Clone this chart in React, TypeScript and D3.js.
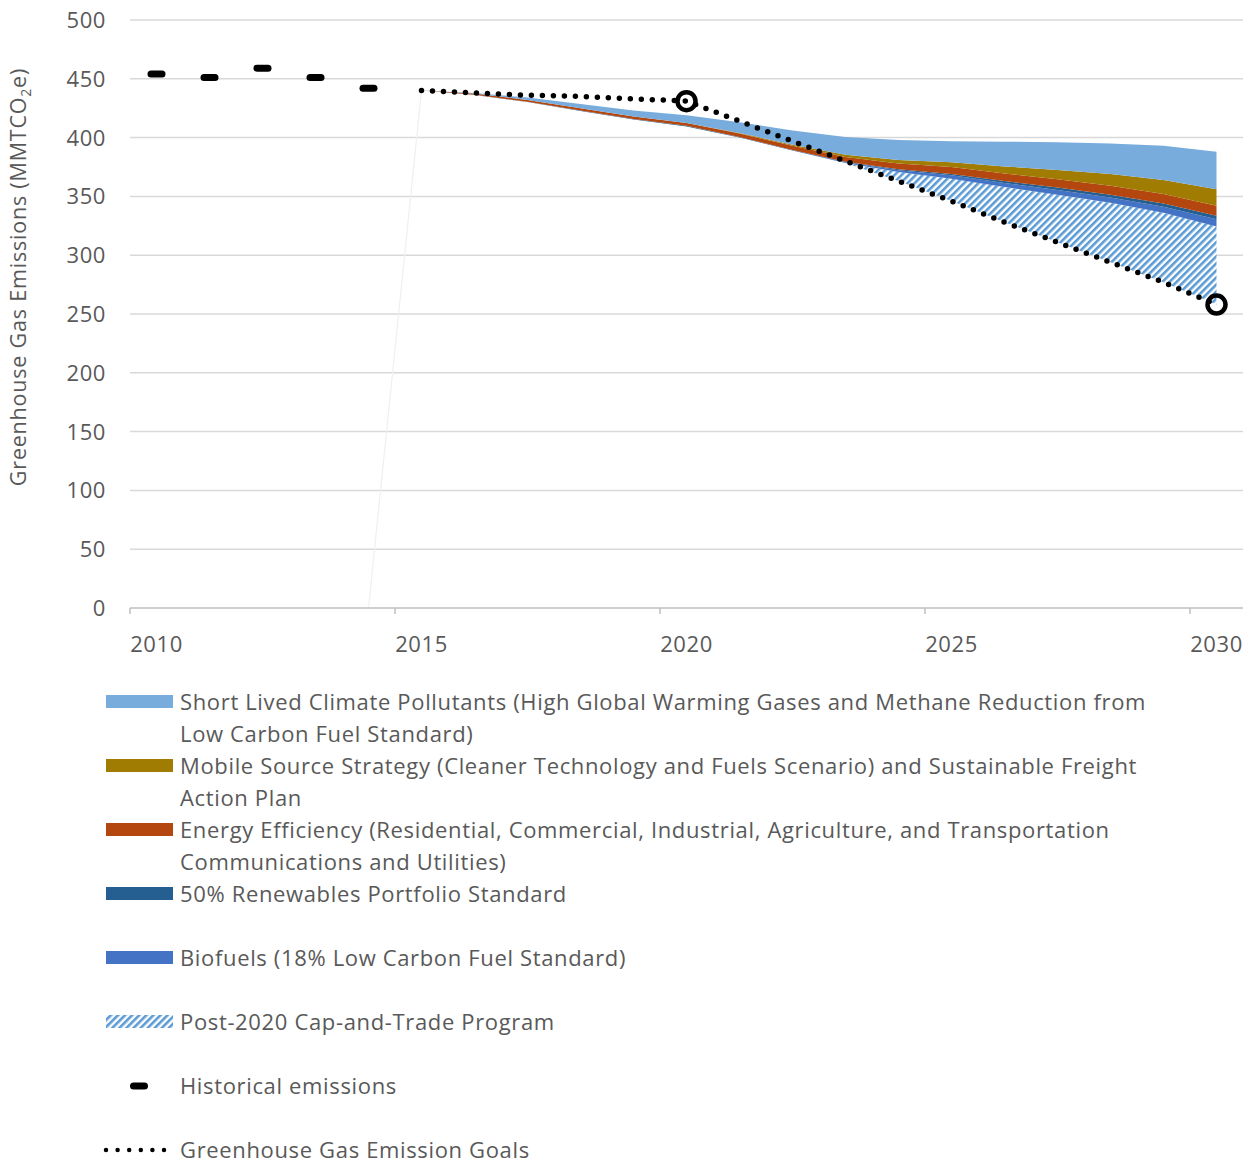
import React, { useEffect, useRef } from 'react';
import * as d3 from 'd3';

const years = d3.range(2010, 2031);
const tickYears = [2010, 2015, 2020, 2025, 2030];
const yTicks = [0, 50, 100, 150, 200, 250, 300, 350, 400, 450, 500];

const historicalYears = [2010, 2011, 2012, 2013, 2014];
const historical = [454, 451, 459, 451, 442];

const scenarioYears = [2014, 2015, 2016, 2017, 2018, 2019, 2020, 2021, 2022, 2023, 2024, 2025, 2026, 2027, 2028, 2029, 2030];
// transparent base of the stack
const base = [0, 440, 436.3, 430.2, 422.6, 415.3, 409.5, 400, 389, 378.5, 363, 346, 328, 311, 294, 277, 258];
const capTrade = [0, 0, 0, 0, 0, 0, 0, 0, 0, 0, 7.8, 19, 30, 40.5, 50.5, 59.2, 66.5];
const biofuels = [0, 0, 0, 0, 0, 0, 0, 0, 0, 0.5, 1.5, 3, 3.5, 4, 4.5, 5, 6];
const renewables = [0, 0, 0.2, 0.3, 0.4, 0.5, 0.5, 0.5, 0.5, 0.5, 0.7, 1, 1.5, 2, 2.5, 2.8, 3];
const efficiency = [0, 0, 1, 1.5, 2, 2.2, 2.5, 3, 3.5, 4, 5, 6, 6.5, 7, 7.5, 8, 8.5];
const mobile = [0, 0, 0, 0, 0, 0, 0, 0.5, 1, 2, 3, 4, 6, 8, 10, 12, 14];
const slcp = [0, 0, 0.5, 2, 3.5, 5, 6.5, 9, 12, 15, 17, 18, 21, 23.5, 26, 29, 32];

const goalYears = [2015, 2016, 2017, 2018, 2019, 2020, 2021, 2022, 2023, 2024, 2025, 2026, 2027, 2028, 2029, 2030];
const goals = [440, 438, 436, 435, 433, 431, 414, 397, 380, 363, 346, 328, 311, 294, 277, 258];
const goalMarkers = [2020, 2030];

const legendItems = [
  { key: 'slcp', lines: ['Short Lived Climate Pollutants (High Global Warming Gases and Methane Reduction from', 'Low Carbon Fuel Standard)'] },
  { key: 'mobile', lines: ['Mobile Source Strategy (Cleaner Technology and Fuels Scenario) and Sustainable Freight', 'Action Plan'] },
  { key: 'efficiency', lines: ['Energy Efficiency (Residential, Commercial, Industrial, Agriculture, and Transportation', 'Communications and Utilities)'] },
  { key: 'renewables', lines: ['50% Renewables Portfolio Standard'] },
  { key: 'biofuels', lines: ['Biofuels (18% Low Carbon Fuel Standard)'] },
  { key: 'capTrade', lines: ['Post-2020 Cap-and-Trade Program'] },
  { key: 'historical', lines: ['Historical emissions'] },
  { key: 'goals', lines: ['Greenhouse Gas Emission Goals'] },
];

const colors: Record<string, string> = {
  slcp: '#78acdc',
  mobile: '#a07c02',
  efficiency: '#b4470f',
  renewables: '#255e91',
  biofuels: '#4472c4',
  capTrade: 'url(#hatch)',
};

const W = 1252;
const H = 1163;
const FONT = "'Open Sans', sans-serif";
const GREY = '#595959';

const App: React.FC = () => {
  const svgRef = useRef<SVGSVGElement>(null);

  useEffect(() => {
    if (!svgRef.current) return;
    const svg = d3.select(svgRef.current);
    svg.selectAll('*').remove();

    const margin = { left: 130, right: 9 };

    const x = d3.scaleBand<number>()
      .domain(years)
      .range([margin.left, W - margin.right])
      .paddingInner(0)
      .paddingOuter(0);
    const cx = (yr: number) => (x(yr) || 0) + x.bandwidth() / 2;

    const y = d3.scaleLinear().domain([0, 500]).range([608, 20]);

    const defs = svg.append('defs');
    const pat = defs.append('pattern')
      .attr('id', 'hatch')
      .attr('patternUnits', 'userSpaceOnUse')
      .attr('width', 5)
      .attr('height', 5)
      .attr('patternTransform', 'rotate(45)');
    pat.append('rect').attr('width', 5).attr('height', 5).attr('fill', '#ffffff');
    pat.append('rect').attr('width', 2.6).attr('height', 5).attr('fill', '#5b9bd5');

    // gridlines
    svg.append('g')
      .selectAll('line')
      .data(yTicks.filter(d => d > 0))
      .join('line')
      .attr('x1', margin.left)
      .attr('x2', W - margin.right)
      .attr('y1', d => y(d))
      .attr('y2', d => y(d))
      .attr('stroke', '#d9d9d9')
      .attr('stroke-width', 1.5);

    // y labels
    svg.append('g')
      .selectAll('text')
      .data(yTicks)
      .join('text')
      .attr('x', 106)
      .attr('y', d => y(d))
      .attr('dy', '0.36em')
      .attr('text-anchor', 'end')
      .attr('font-family', FONT)
      .attr('font-size', 22)
      .attr('letter-spacing', 0.6)
      .attr('fill', GREY)
      .text(d => d);

    // y title
    const title = svg.append('text')
      .attr('transform', 'translate(26,277) rotate(-90)')
      .attr('text-anchor', 'middle')
      .attr('font-family', FONT)
      .attr('font-size', 21.5)
      .attr('letter-spacing', 0.8)
      .attr('fill', GREY);
    title.append('tspan').text('Greenhouse Gas Emissions (MMTCO');
    title.append('tspan').attr('font-size', 14).attr('dy', 5).text('2');
    title.append('tspan').attr('dy', -5).text('e)');

    // stacked scenario areas
    const rows = scenarioYears.map((yr, i) => ({
      year: yr,
      base: base[i],
      capTrade: capTrade[i],
      biofuels: biofuels[i],
      renewables: renewables[i],
      efficiency: efficiency[i],
      mobile: mobile[i],
      slcp: slcp[i],
    }));
    const keys = ['base', 'capTrade', 'biofuels', 'renewables', 'efficiency', 'mobile', 'slcp'];
    const stack = d3.stack<any>().keys(keys)(rows);

    const area = d3.area<any>()
      .x(d => cx(d.data.year))
      .y0(d => y(d[0]))
      .y1(d => y(d[1]));

    // faint outline of the transparent base series
    svg.append('path')
      .datum(stack[0].filter(d => d.data.year <= 2015))
      .attr('d', d3.line<any>().x(d => cx(d.data.year)).y(d => y(d[1])))
      .attr('fill', 'none')
      .attr('stroke', '#f0f0f0')
      .attr('stroke-width', 1.2);

    svg.append('g')
      .selectAll('path')
      .data(stack.slice(1))
      .join('path')
      .attr('d', s => area(s.filter(d => d.data.year >= 2015)))
      .attr('fill', s => colors[s.key]);

    // x axis
    svg.append('line')
      .attr('x1', margin.left)
      .attr('x2', W - margin.right)
      .attr('y1', y(0))
      .attr('y2', y(0))
      .attr('stroke', '#bfbfbf')
      .attr('stroke-width', 1.5);

    svg.append('g')
      .selectAll('line')
      .data(tickYears)
      .join('line')
      .attr('x1', d => x(d) || 0)
      .attr('x2', d => x(d) || 0)
      .attr('y1', y(0))
      .attr('y2', y(0) + 6)
      .attr('stroke', '#bfbfbf')
      .attr('stroke-width', 1.5);

    svg.append('g')
      .selectAll('text')
      .data(tickYears)
      .join('text')
      .attr('x', d => cx(d))
      .attr('y', 644)
      .attr('dy', '0.36em')
      .attr('text-anchor', 'middle')
      .attr('font-family', FONT)
      .attr('font-size', 22)
      .attr('letter-spacing', 0.6)
      .attr('fill', GREY)
      .text(d => d);

    // historical emissions
    svg.append('g')
      .selectAll('rect')
      .data(historicalYears.map((yr, i) => ({ yr, v: historical[i] })))
      .join('rect')
      .attr('x', d => cx(d.yr) - 9)
      .attr('y', d => y(d.v) - 3.5)
      .attr('width', 18)
      .attr('height', 7)
      .attr('rx', 3.5)
      .attr('fill', '#000');

    // goals
    const goalLine = d3.line<number>()
      .x((_, i) => cx(goalYears[i]))
      .y(d => y(d));
    svg.append('path')
      .datum(goals)
      .attr('d', goalLine)
      .attr('fill', 'none')
      .attr('stroke', '#000')
      .attr('stroke-width', 5.5)
      .attr('stroke-linecap', 'round')
      .attr('stroke-dasharray', '0 11');

    svg.append('g')
      .selectAll('circle')
      .data(goalMarkers)
      .join('circle')
      .attr('cx', d => cx(d))
      .attr('cy', d => y(goals[goalYears.indexOf(d)]))
      .attr('r', 9)
      .attr('fill', 'none')
      .attr('stroke', '#000')
      .attr('stroke-width', 4.5);

    // legend
    const legendTop = 702;
    const lineH = 32;
    const rowStarts = [0, 2, 4, 6, 8, 10, 12, 14];
    const lg = svg.append('g');
    legendItems.forEach((item, i) => {
      const cy = legendTop + rowStarts[i] * lineH;
      if (item.key === 'historical') {
        lg.append('rect').attr('x', 130).attr('y', cy - 3.5).attr('width', 18).attr('height', 7)
          .attr('rx', 3.5).attr('fill', '#000');
      } else if (item.key === 'goals') {
        lg.append('line').attr('x1', 106).attr('x2', 166).attr('y1', cy).attr('y2', cy)
          .attr('stroke', '#000').attr('stroke-width', 4.5).attr('stroke-linecap', 'round')
          .attr('stroke-dasharray', '0 11.6');
      } else {
        lg.append('rect').attr('x', 106).attr('y', cy - 7).attr('width', 67).attr('height', 13)
          .attr('fill', colors[item.key]);
      }
      item.lines.forEach((ln, j) => {
        lg.append('text')
          .attr('x', 180)
          .attr('y', cy + j * lineH)
          .attr('dy', '0.36em')
          .attr('font-family', FONT)
          .attr('font-size', 22)
          .attr('letter-spacing', 0.65)
          .attr('fill', GREY)
          .text(ln);
      });
    });
  }, []);

  return (
    <svg
      ref={svgRef}
      width={W}
      height={H}
      viewBox={`0 0 ${W} ${H}`}
      style={{ position: 'absolute', left: 0, top: 0, background: '#fff' }}
    />
  );
};

export default App;
